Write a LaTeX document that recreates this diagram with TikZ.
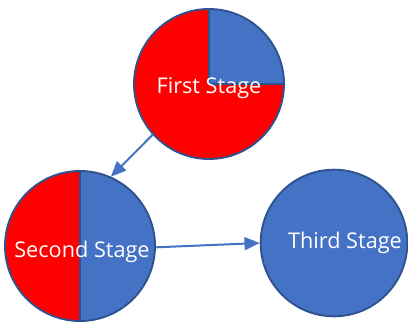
\documentclass[tikz,border=0pt]{standalone}
\usepackage{fontspec}
\setmainfont{Open Sans}
\usetikzlibrary{arrows.meta}

\definecolor{stageblue}{HTML}{4472C4}
\definecolor{stageline}{HTML}{2F528F}
\definecolor{stagered}{HTML}{FF0000}

\tikzset{
  stage/.style={circle, draw=stageline, line width=1.6pt, minimum size=4.5cm, inner sep=0pt},
  stagetext/.style={text=white, font=\fontsize{18.5}{21}\selectfont},
  flow/.style={draw=stageblue, line width=1.7pt, -{Triangle[length=13pt,width=11pt]}}
}

\begin{document}
\begin{tikzpicture}[x=0.03cm, y=-0.03cm]
\useasboundingbox (0,0) rectangle (408,324);

%%%%%%%%%%%%%%%%%%%%%%%%%%%%%%%%%%%%%%%%%%%%%%%%%%%%%%%%%%%%%%%%
% First stage
%%%%%%%%%%%%%%%%%%%%%%%%%%%%%%%%%%%%%%%%%%%%%%%%%%%%%%%%%%%%%%%%
\node [stage, path picture={
    \fill [stagered] (path picture bounding box.south west) rectangle (path picture bounding box.north east);
    \fill [stageblue] (path picture bounding box.center) rectangle (path picture bounding box.north east);
    \draw [stageline, line width=1.2pt] (path picture bounding box.north) -- (path picture bounding box.center) -- (path picture bounding box.east);
  }] (first) at (209,84) {};
\node [stagetext] (first-text) at (209,88) {First Stage};

%%%%%%%%%%%%%%%%%%%%%%%%%%%%%%%%%%%%%%%%%%%%%%%%%%%%%%%%%%%%%%%%
% Second stage
%%%%%%%%%%%%%%%%%%%%%%%%%%%%%%%%%%%%%%%%%%%%%%%%%%%%%%%%%%%%%%%%
\node [stage, path picture={
    \fill [stagered] (path picture bounding box.south west) rectangle (path picture bounding box.north);
    \fill [stageblue] (path picture bounding box.south) rectangle (path picture bounding box.north east);
    \draw [stageline, line width=1pt] (path picture bounding box.north) -- (path picture bounding box.south);
  }] (second) at (80,246) {};
\node [stagetext] (second-text) at (82,252) {Second Stage};

%%%%%%%%%%%%%%%%%%%%%%%%%%%%%%%%%%%%%%%%%%%%%%%%%%%%%%%%%%%%%%%%
% Third stage
%%%%%%%%%%%%%%%%%%%%%%%%%%%%%%%%%%%%%%%%%%%%%%%%%%%%%%%%%%%%%%%%
\node [stage, fill=stageblue, minimum size=4.4cm] (third) at (334,243) {};
\node [stagetext] (third-text) at (345,243) {Third Stage};

%%%%%%%%%%%%%%%%%%%%%%%%%%%%%%%%%%%%%%%%%%%%%%%%%%%%%%%%%%%%%%%%
% Edges
%%%%%%%%%%%%%%%%%%%%%%%%%%%%%%%%%%%%%%%%%%%%%%%%%%%%%%%%%%%%%%%%
\draw [flow] (first.222) to (second.66);
\draw [flow] (second.-1) to (third.180);
\end{tikzpicture}
\end{document}
